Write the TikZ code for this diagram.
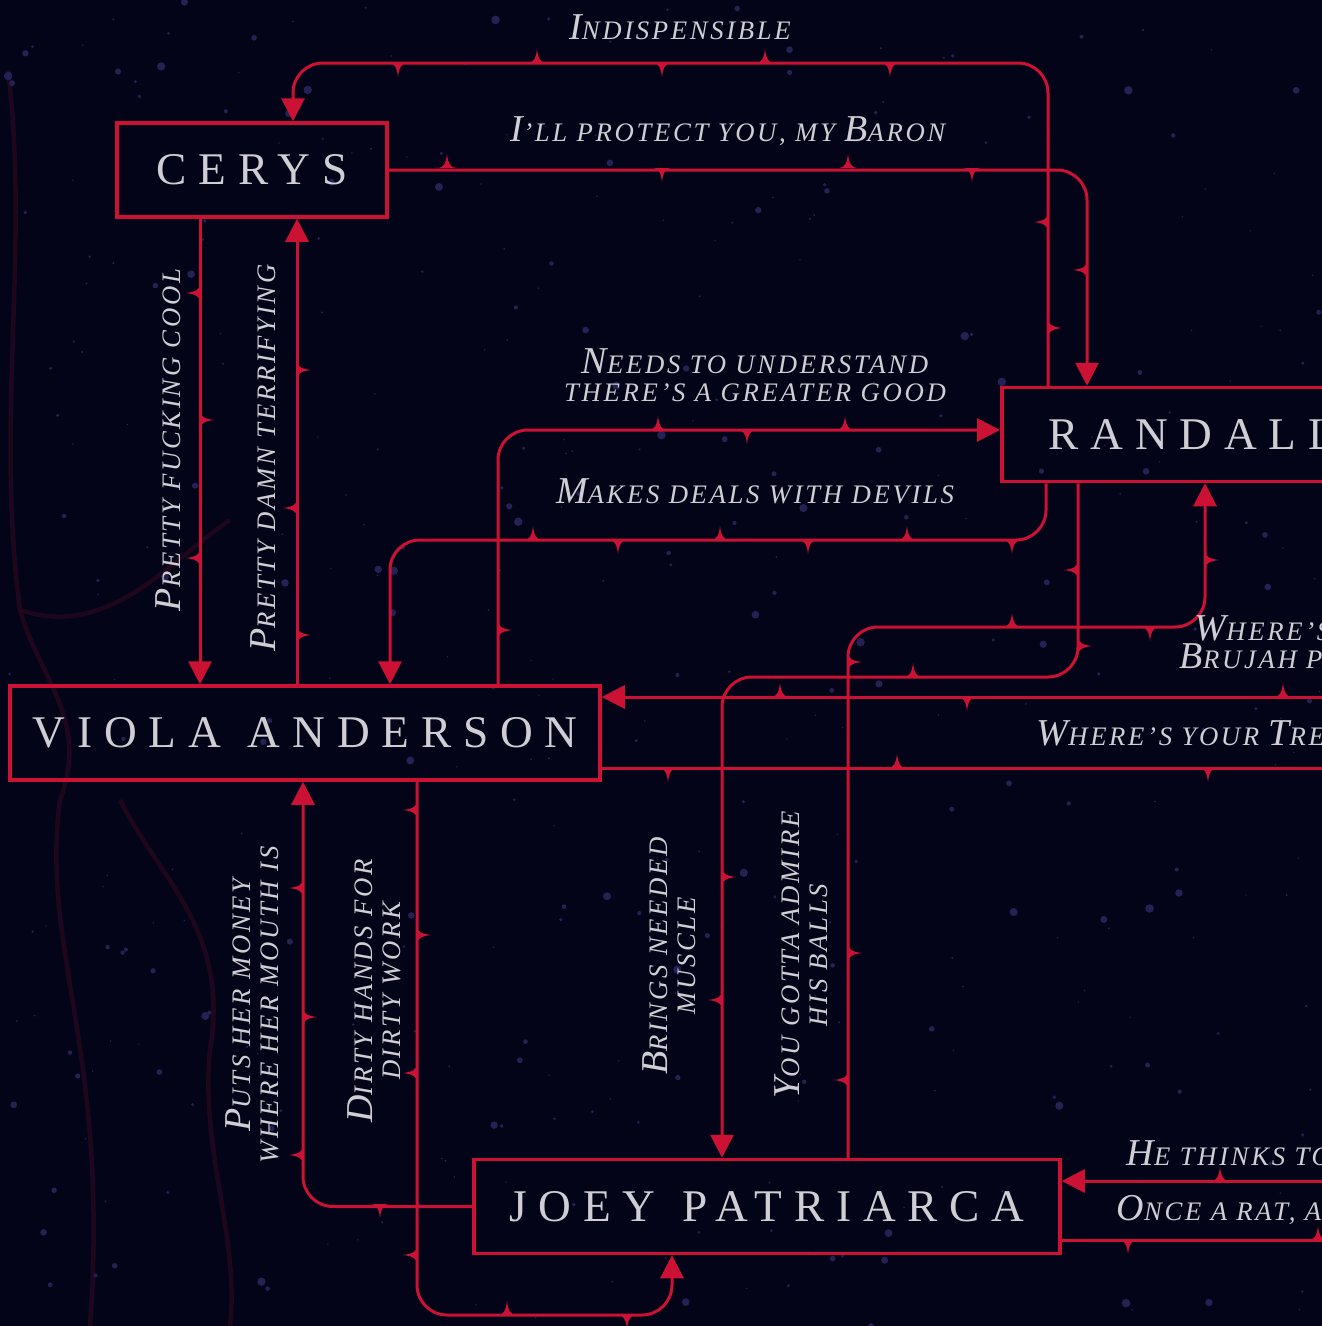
\documentclass[tikz,border=0pt]{standalone}
\usepackage{fontspec}
\setmainfont{Liberation Serif}
\usepackage{xcolor}
\usepackage{tikz}
\usetikzlibrary{arrows.meta}

\definecolor{nightbg}{RGB}{4,4,24}
\definecolor{bloodred}{RGB}{204,18,52}
\definecolor{ashgrey}{RGB}{206,206,212}
\definecolor{speckblue}{RGB}{36,34,84}

\newcommand{\scw}[2]{{\fontsize{10.8}{8}\selectfont #1}{\fontsize{7.6}{8}\selectfont\MakeUppercase{#2}}}

\begin{document}
\begin{tikzpicture}[x=0.1mm, y=-0.1mm,
  person/.style={draw=bloodred, line width=0.35mm, text=ashgrey, minimum height=9.4mm, inner sep=0pt,
    font=\fontsize{12.9}{14}\selectfont\addfontfeature{LetterSpace=26}},
  relabel/.style={text=ashgrey, font=\fontsize{10.8}{8}\selectfont\itshape\addfontfeature{LetterSpace=10},
    align=center, inner sep=0pt},
  tie/.style={draw=bloodred, line width=0.3mm, rounded corners=3mm, -{Triangle[length=2.3mm,width=2.3mm]}},
  thorn/.pic={\fill[bloodred] (-0.9mm,0) .. controls (-0.35mm,0) and (-0.1mm,0.5mm) .. (0,1.4mm)
    .. controls (0.1mm,0.5mm) and (0.35mm,0) .. (0.9mm,0) -- cycle;}]
  \useasboundingbox (0,0) rectangle (1322,1326);
  \clip (0,0) rectangle (1322,1326);
  \fill[nightbg] (0,0) rectangle (1322,1326);

  %% texture: faint veins and speckles
  \begin{scope}[bloodred!13!nightbg, line width=0.45mm]
    \draw (8,70) .. controls (30,250) and (-5,420) .. (20,610) .. controls (40,680) and (90,720) .. (60,800);
    \draw (20,610) .. controls (110,640) and (170,560) .. (230,520);
    \draw (120,800) .. controls (160,880) and (230,930) .. (210,1050) .. controls (200,1150) and (240,1240) .. (230,1326);
    \draw (60,800) .. controls (40,950) and (110,1050) .. (90,1326);
  \end{scope}
  \pgfmathsetseed{42}
  \foreach \i in {1,...,380}{
    \pgfmathsetmacro\sx{1322*rnd}
    \pgfmathsetmacro\sy{1326*rnd}
    \pgfmathsetmacro\sr{0.08+0.35*rnd^3}
    \fill[speckblue] (\sx,\sy) circle (\sr mm);
  }

  %% people
  \node[person, minimum width=27mm] (cerys) at (252,170) {CERYS};
  \node[person, anchor=west, inner xsep=4.7mm, text width=40mm, align=left] (randall) at (1000,434.5) {RANDALL};
  \node[person, minimum width=59mm] (viola) at (305,733) {VIOLA\hspace{0.6em}ANDERSON};
  \node[person, minimum width=58.6mm] (joey) at (767,1206.5) {JOEY\hspace{0.6em}PATRIARCA};

  %% free ends beyond the right edge
  \coordinate (offBrujah) at (1400,697);
  \coordinate (offTribe) at (1400,768);
  \coordinate (offThinks) at (1400,1181);
  \coordinate (offRat) at (1400,1240);

  %% ties
  \draw[tie] (1048,0 |- randall.north) |- (293,63) -- (293,0 |- cerys.north);
  \draw[tie] (cerys.east) -| (1087,0 |- randall.north);
  \draw[tie] (200,0 |- cerys.south) -- (200,0 |- viola.north);
  \draw[tie] (297,0 |- viola.north) -- (297,0 |- cerys.south);
  \draw[tie] (498,0 |- viola.north) |- (randall.west |- 0,430);
  \draw[tie] (1046,0 |- randall.south) |- (390,540) -- (390,0 |- viola.north);
  \draw[tie] (848,0 |- joey.north) |- (1205,627) -- (1205,0 |- randall.south);
  \draw[tie] (1078,0 |- randall.south) |- (722,677) -- (722,0 |- joey.north);
  \draw[tie] (joey.west) -| (303,0 |- viola.south);
  \draw[tie] (417,0 |- viola.south) |- (672,1315) -- (672,0 |- joey.south);
  \draw[tie] (offBrujah) -- (viola.east |- offBrujah);
  \draw[tie] (viola.east |- offTribe) -- (offTribe);
  \draw[tie] (offThinks) -- (joey.east |- offThinks);
  \draw[tie] (joey.east |- offRat) -- (offRat);

  %% thorns along the ties
  \foreach \tx/\ty in {537/63, 765/63, 447/168, 848/168, 658/430, 845/430, 533/540, 720/540, 907/540,
      1012/627, 913/677, 780/697, 1283/697, 897/768, 507/1315, 1220/1181, 1318/1240}
    \pic at (\tx,\ty) {thorn};
  \foreach \tx/\ty in {398/63, 662/63, 890/63, 662/168, 972/168, 747/430, 618/540, 808/540, 1012/540,
      1150/627, 967/697, 668/768, 1208/768, 380/1204, 627/1315, 1128/1240}
    \pic[rotate=180] at (\tx,\ty) {thorn};
  \foreach \tx/\ty in {1048/222, 1087/270, 200/293, 200/558, 297/508, 848/1080, 1078/570, 722/1000,
      303/888, 303/1155, 417/810, 417/1073, 417/1255}
    \pic[rotate=90] at (\tx,\ty) {thorn};
  \foreach \tx/\ty in {1048/328, 200/420, 297/370, 297/635, 498/630, 848/953, 848/662, 1205/560,
      722/877, 303/1017, 417/935, 1078/646}
    \pic[rotate=-90] at (\tx,\ty) {thorn};

  %% labels
  \node[relabel] (lblIndis) at (680,27) {\scw{I}{ndispensible}};
  \node[relabel] (lblBaron) at (728,131) {\scw{I}{'ll protect you, my }\scw{B}{aron}};
  \node[relabel, rotate=90] (lblCool) at (168,440) {\scw{P}{retty fucking cool}};
  \node[relabel, rotate=90] (lblTerr) at (263,458) {\scw{P}{retty damn terrifying}};
  \node[relabel] (lblGood) at (755,375) {\scw{N}{eeds to understand}\\\scw{}{there's a greater good}};
  \node[relabel] (lblDevils) at (755,491) {\scw{M}{akes deals with devils}};
  \node[relabel] (lblBrujah) at (1295,642) {\scw{W}{here's the}\\\scw{B}{rujah pride?}};
  \node[relabel, anchor=west] (lblTribe) at (1036,733) {\scw{W}{here's your }\scw{T}{remere}};
  \node[relabel, rotate=90] (lblMuscle) at (669,956) {\scw{B}{rings needed}\\\scw{}{muscle}};
  \node[relabel, rotate=90] (lblBalls) at (801,955) {\scw{Y}{ou gotta admire}\\\scw{}{his balls}};
  \node[relabel, rotate=90] (lblMoney) at (252,1005) {\scw{P}{uts her money}\\\scw{}{where her mouth is}};
  \node[relabel, rotate=90] (lblDirty) at (374,991) {\scw{D}{irty hands for}\\\scw{}{dirty work}};
  \node[relabel, anchor=west] (lblThinks) at (1126,1153) {\scw{H}{e thinks too much}};
  \node[relabel, anchor=west] (lblRat) at (1116,1210) {\scw{O}{nce a rat, always a rat}};
\end{tikzpicture}
\end{document}
